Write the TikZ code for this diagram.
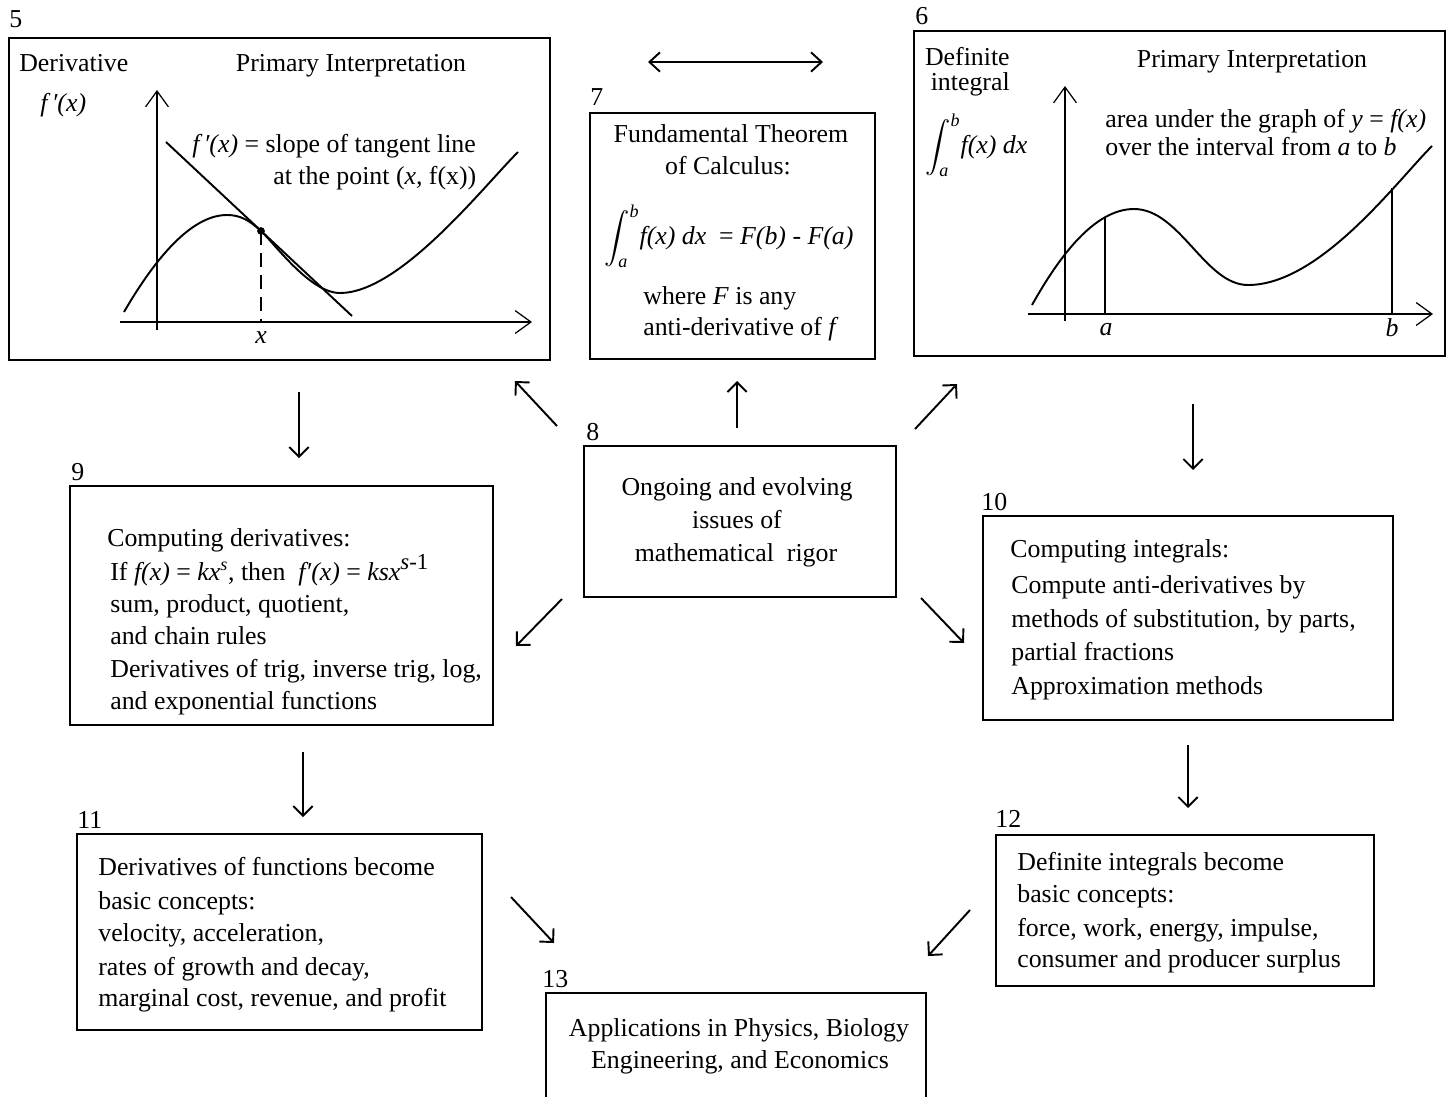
\documentclass[tikz,border=0pt]{standalone}
\usepackage{amsmath}
\usepackage{fontspec}
\setmainfont{Liberation Serif}
\usetikzlibrary{arrows.meta,fit}

\tikzset{
  box/.style={draw, line width=1.5pt, inner sep=0pt},
  arr/.style={-{Straight Barb[length=5.5pt,width=11pt]}, line width=1.1pt},
  dbl/.style={{Straight Barb[length=6pt,width=11pt]}-{Straight Barb[length=6pt,width=11pt]}, line width=1.1pt},
  axis/.style={-{Straight Barb[length=9pt,width=13pt]}, line width=0.7pt},
  curve/.style={line width=1.1pt},
  lbl/.style={anchor=base west, inner sep=0pt},
  clbl/.style={anchor=base, inner sep=0pt}
}

\begin{document}
\begin{tikzpicture}[x=0.02cm, y=-0.02cm, font=\fontsize{14.7}{19}\selectfont]
  \useasboundingbox (0,0) rectangle (1453,1096);

  % boxes
  \node[box, fit={(9,38) (550,360)}] (b5) {};
  \node[box, fit={(914,31) (1445,356)}] (b6) {};
  \node[box, fit={(590,113) (875,359)}] (b7) {};
  \node[box, fit={(584,446) (896,597)}] (b8) {};
  \node[box, fit={(70,486) (493,725)}] (b9) {};
  \node[box, fit={(983,516) (1393,720)}] (b10) {};
  \node[box, fit={(77,834) (482,1030)}] (b11) {};
  \node[box, fit={(996,835) (1374,986)}] (b12) {};
  \node[box, fit={(546,993) (926,1120)}] (b13) {};

  % numbers
  \node[lbl] (n5) at (9,27) {5};
  \node[lbl] (n6) at (915,24) {6};
  \node[lbl] (n7) at (590,105) {7};
  \node[lbl] (n8) at (586,440) {8};
  \node[lbl] (n9) at (71,480) {9};
  \node[lbl] (n10) at (981,510) {10};
  \node[lbl] (n11) at (77,828) {11};
  \node[lbl] (n12) at (995,827) {12};
  \node[lbl] (n13) at (542,987) {13};

  % box 5: derivative
  \node[lbl] (d5) at (19,71) {Derivative};
  \node[clbl] (p5) at (351,71) {Primary Interpretation};
  \node[lbl] (f5) at (40,111) {\textit{f\,′(x)}};
  \node[lbl] (s5) at (192,152) {\textit{f\,′(x)} = slope of tangent line};
  \node[lbl] (s5b) at (273,184) {at the point (\textit{x,} f(x))};
  \node[clbl] (x5) at (261,343) {\textit{x}};
  \draw[axis] (120,322) -- (532,322);
  \draw[axis] (157,330) -- (157,90);
  \draw[curve] (124,312) .. controls (160,250) and (195,215) .. (227,215)
    .. controls (240,215) and (249,220) .. (261,231)
    .. controls (275,244) and (310,293) .. (340,293)
    .. controls (400,293) and (483,187) .. (518,152);
  \draw[curve] (166,142) -- (352,316);
  \draw[dash pattern=on 8pt off 4.5pt, line width=0.7pt] (261,231) -- (261,322);
  \fill (261,231) circle (2.2pt);

  % box 6: definite integral
  \node[anchor=base east, inner sep=0pt] (d6) at (1010,65) {Definite};
  \node[anchor=base east, inner sep=0pt] (i6) at (1010,90) {integral};
  \node[clbl] (p6) at (1252,67) {Primary Interpretation};
  \node[anchor=west, inner sep=0pt] (int6) at (925,145) {$\displaystyle\int_{\text{\itshape a}}^{\text{\itshape b}}$\textit{f(x) dx}};
  \node[lbl] (s6) at (1105,127) {area under the graph of \textit{y} = \textit{f(x)}};
  \node[lbl] (s6b) at (1105,155) {over the interval from \textit{a} to \textit{b}};
  \node[clbl] (a6) at (1106,335) {\textit{a}};
  \node[clbl] (bb6) at (1392,336) {\textit{b}};
  \draw[axis] (1028,314) -- (1433,314);
  \draw[axis] (1065,321) -- (1065,86);
  \draw[curve] (1032,305) .. controls (1060,255) and (1095,209) .. (1134,209)
    .. controls (1180,209) and (1205,285) .. (1248,285)
    .. controls (1320,285) and (1397,181) .. (1432,146);
  \draw[line width=0.7pt] (1105,314) -- (1105,217);
  \draw[line width=0.7pt] (1392,314) -- (1392,188);

  % box 7: fundamental theorem
  \node[clbl] (t7) at (731,142) {Fundamental Theorem};
  \node[clbl] (t7b) at (728,174) {of Calculus:};
  \node[anchor=west, inner sep=0pt] (int7) at (604,236) {$\displaystyle\int_{\text{\itshape a}}^{\text{\itshape b}}$\textit{f(x) dx}\ \ = \textit{F(b)} - \textit{F(a)}};
  \node[lbl] (t7c) at (643,304) {where \textit{F} is any};
  \node[lbl] (t7d) at (643,335) {anti-derivative of \textit{f}};

  % box 8
  \node[clbl] (t8) at (737,495) {Ongoing and evolving};
  \node[clbl] (t8b) at (737,528) {issues of};
  \node[clbl] (t8c) at (736,561) {mathematical\ \ rigor};

  % box 9
  \foreach \x/\y/\t [count=\i] in {107/546/{Computing derivatives:},
      110/580/{If \textit{f(x)} = \textit{kx}\textsuperscript{\textit{s}}, then~ \textit{f′(x)} = \textit{ksx}\raisebox{.42em}{\fontsize{13}{13}\selectfont\textit{s}-1}},
      110/612/{sum, product, quotient,},
      110/644/{and chain rules},
      110/677/{Derivatives of trig, inverse trig, log,},
      110/709/{and exponential functions}}
    \node[lbl] (t9-\i) at (\x,\y) {\t};

  % box 10
  \foreach \x/\y/\t [count=\i] in {1010/557/{Computing integrals:},
      1011/593/{Compute anti-derivatives by},
      1011/627/{methods of substitution, by parts,},
      1011/660/{partial fractions},
      1011/694/{Approximation methods}}
    \node[lbl] (t10-\i) at (\x,\y) {\t};

  % box 11
  \foreach \y/\t [count=\i] in {875/{Derivatives of functions become},
      909/{basic concepts:},
      941/{velocity, acceleration,},
      975/{rates of growth and decay,},
      1006/{marginal cost, revenue, and profit}}
    \node[lbl] (t11-\i) at (98,\y) {\t};

  % box 12
  \foreach \y/\t [count=\i] in {870/{Definite integrals become},
      902/{basic concepts:},
      936/{force, work, energy, impulse,},
      967/{consumer and producer surplus}}
    \node[lbl] (t12-\i) at (1017,\y) {\t};

  % box 13
  \node[clbl] (t13) at (739,1036) {Applications in Physics, Biology};
  \node[clbl] (t13b) at (740,1068) {Engineering, and Economics};

  % arrows
  \coordinate (c56a) at (648,62);   \coordinate (c56b) at (823,62);
  \coordinate (c59a) at (299,392);  \coordinate (c59b) at (299,458);
  \coordinate (c87a) at (737,428);  \coordinate (c87b) at (737,381);
  \coordinate (c85a) at (557,426);  \coordinate (c85b) at (515,381);
  \coordinate (c86a) at (915,429);  \coordinate (c86b) at (957,384);
  \coordinate (c610a) at (1193,404); \coordinate (c610b) at (1193,470);
  \coordinate (c89a) at (562,599);  \coordinate (c89b) at (516,646);
  \coordinate (c810a) at (921,598); \coordinate (c810b) at (964,643);
  \coordinate (c911a) at (303,752); \coordinate (c911b) at (303,817);
  \coordinate (c1012a) at (1188,745); \coordinate (c1012b) at (1188,808);
  \coordinate (c1113a) at (511,897); \coordinate (c1113b) at (554,943);
  \coordinate (c1213a) at (970,910); \coordinate (c1213b) at (928,956);
  \draw[dbl] (c56a) -- (c56b);
  \foreach \a in {59,87,85,86,610,89,810,911,1012,1113,1213}
    \draw[arr] (c\a a) -- (c\a b);
\end{tikzpicture}
\end{document}
